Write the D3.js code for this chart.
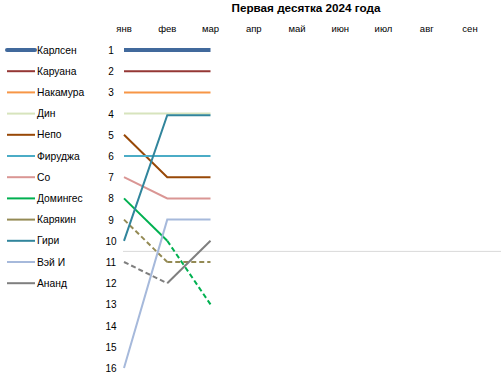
<!DOCTYPE html>
<html><head><meta charset="utf-8">
<script src="https://cdn.jsdelivr.net/npm/d3@7"></script>
<style>body{margin:0;background:#fff}svg{display:block}</style>
</head><body>
<script>
const months = ["янв","фев","мар","апр","май","июн","июл","авг","сен"];
const rankTicks = [1,2,3,4,5,6,7,8,9,10,11,12,13,14,15,16];
const players = ["Карлсен","Каруана","Накамура","Дин","Непо","Фируджа","Со","Домингес","Карякин","Гири","Вэй И","Ананд"];
const colors = ["#41699c","#953735","#f79646","#d7e4bd","#984807","#4bacc6","#da9694","#00b050","#948a54","#31859c","#a6b9db","#7f7f7f"];
const ranks = [
  [1,1,1],[2,2,2],[3,3,3],[4,4,4],[5,7,7],[6,6,6],[7,8,8],[8,10,13],[9,11,11],[10,4.08,4.08],[16,9,9],[11,12,10]
];
// per segment: dashed or not
const dashed = [
  [0,0],[0,0],[0,0],[0,0],[0,0],[0,0],[0,0],[0,1],[1,1],[0,0],[0,0],[1,0]
];
const title = "Первая десятка 2024 года";

const W=501,H=382;
const svg=d3.select("body").append("svg").attr("width",W).attr("height",H);
const x=d3.scalePoint().domain(months).range([124,470]);
const y=d3.scaleLinear().domain([1,16]).range([50,368]);
const font="'Liberation Sans', Arial, sans-serif";

svg.append("text").attr("x",306).attr("y",12).attr("text-anchor","middle")
  .attr("font-family",font).attr("font-size",11.7).attr("font-weight","bold").text(title);

svg.append("g").selectAll("text").data(months).join("text")
  .attr("x",d=>x(d)).attr("y",32).attr("text-anchor","middle")
  .attr("font-family",font).attr("font-size",9.5).text(d=>d);

svg.append("line").attr("x1",123).attr("x2",W).attr("y1",y(10.5)).attr("y2",y(10.5))
  .attr("stroke","#d9d9d9").attr("stroke-width",1);

svg.append("g").selectAll("text").data(rankTicks).join("text")
  .attr("x",111).attr("y",d=>y(d)+4).attr("text-anchor","middle")
  .attr("font-family",font).attr("font-size",10).text(d=>d);

const line=d3.line().x(d=>x(d[0])).y(d=>y(d[1]));
const g=svg.append("g");
players.forEach((p,i)=>{
  const r=ranks[i];
  if(dashed[i].every(v=>!v)){
    g.append("path").attr("d",line(r.map((v,k)=>[months[k],v])))
      .attr("fill","none").attr("stroke",colors[i]).attr("stroke-width",i===0?4:2);
  } else {
    for(let s=0;s<r.length-1;s++){
      g.append("path").attr("d",line([[months[s],r[s]],[months[s+1],r[s+1]]]))
        .attr("fill","none").attr("stroke",colors[i])
        .attr("stroke-width",2)
        .attr("stroke-dasharray",dashed[i][s]?"5,3":null);
    }
  }
});

const lg=svg.append("g");
players.forEach((p,i)=>{
  const yy=y(i+1);
  lg.append("line").attr("x1",7).attr("x2",35).attr("y1",yy).attr("y2",yy)
    .attr("stroke",colors[i]).attr("stroke-width",i===0?4:2)
    .attr("stroke-linecap",i===0?"round":"butt");
  lg.append("text").attr("x",37).attr("y",yy+3.5).attr("font-family",font)
    .attr("font-size",10.3).text(p);
});
</script>
</body></html>
